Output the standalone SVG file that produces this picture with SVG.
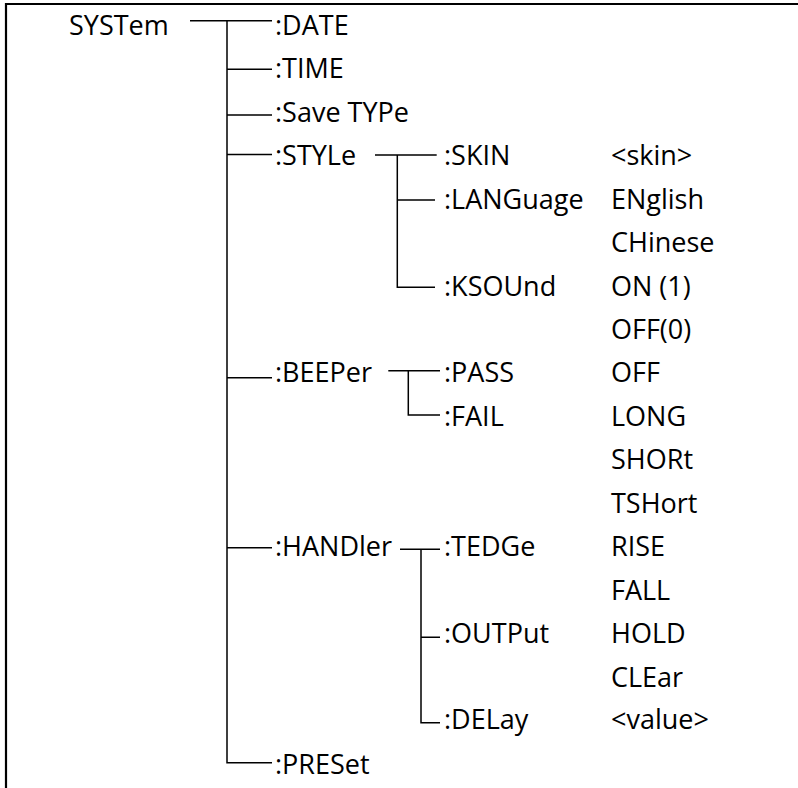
<svg xmlns="http://www.w3.org/2000/svg" width="798" height="788" viewBox="0 0 798 788">
<style>
text{font-family:"Open Sans","Liberation Sans",sans-serif;font-size:27px;fill:#000}
.c{fill:none;stroke:#000;stroke-width:1.5}
.b{fill:none;stroke:#000;stroke-width:2.2}
</style>
<rect width="798" height="788" fill="#fff"/>
<g id="frame"><path class="b" d="M6 788V4H798"/></g>
<g id="connectors">
<path class="c" d="M190 20.7H272M227 20.7V762.7H272M227 69.3H272M227 115H272M227 154.5H272M227 377.7H272M227 547.7H272"/>
<path class="c" d="M375 155H436.7M397.3 155V287.3H435M397.3 200H435"/>
<path class="c" d="M388.3 370.7H440M408.3 370.7V415H440"/>
<path class="c" d="M400 549.3H440M421 549.3V722.7H440M421 637.3H440"/>
</g>
<g id="n-system"><text x="69" y="34.5">SYSTem</text></g>
<g id="n-date"><text x="275" y="34.5">:DATE</text></g>
<g id="n-time"><text x="275" y="78">:TIME</text></g>
<g id="n-savetype"><text x="275" y="121.5">:Save TYPe</text></g>
<g id="n-style"><text x="275" y="165">:STYLe</text></g>
<g id="n-skin"><text x="444" y="165">:SKIN</text><text x="611" y="165">&lt;skin&gt;</text></g>
<g id="n-language"><text x="444" y="208.5">:LANGuage</text><text x="611" y="208.5">ENglish</text><text x="611" y="252">CHinese</text></g>
<g id="n-ksound"><text x="444" y="295.5">:KSOUnd</text><text x="611" y="295.5">ON (1)</text><text x="611" y="339">OFF(0)</text></g>
<g id="n-beeper"><text x="275" y="382">:BEEPer</text></g>
<g id="n-pass"><text x="444" y="382">:PASS</text><text x="611" y="382">OFF</text></g>
<g id="n-fail"><text x="444" y="425.5">:FAIL</text><text x="611" y="425.5">LONG</text><text x="611" y="469">SHORt</text><text x="611" y="512.5">TSHort</text></g>
<g id="n-handler"><text x="275" y="556">:HANDler</text></g>
<g id="n-tedge"><text x="444" y="556">:TEDGe</text><text x="611" y="556">RISE</text><text x="611" y="599.5">FALL</text></g>
<g id="n-output"><text x="444" y="643">:OUTPut</text><text x="611" y="643">HOLD</text><text x="611" y="686.5">CLEar</text></g>
<g id="n-delay"><text x="444" y="728.5">:DELay</text><text x="611" y="728.5">&lt;value&gt;</text></g>
<g id="n-preset"><text x="275" y="774">:PRESet</text></g>
</svg>
